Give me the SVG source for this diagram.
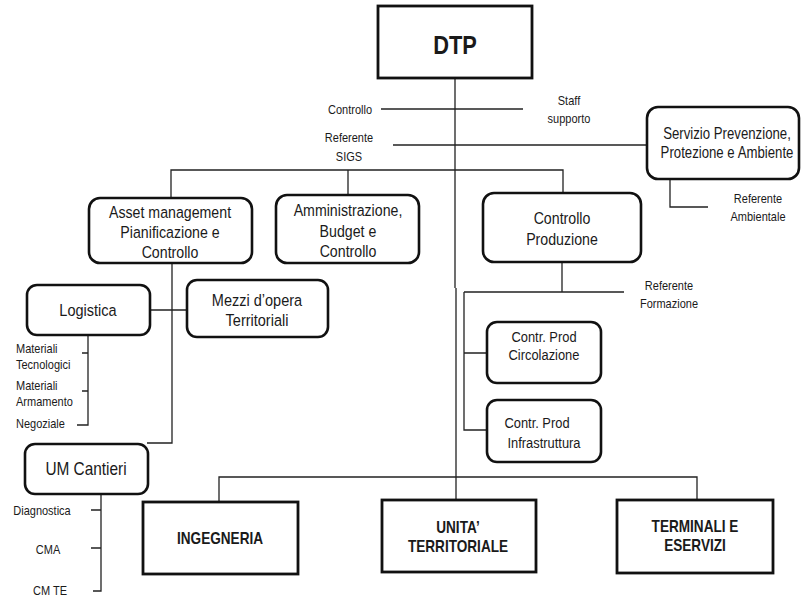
<svg xmlns="http://www.w3.org/2000/svg" width="802" height="596" viewBox="0 0 802 596">
<style>
text{font-family:"Liberation Sans",Arial,sans-serif;fill:#1a1a1a;text-anchor:middle;dominant-baseline:central}
.n{font-size:16.5px}
.c{font-size:15px}
.s{font-size:12.5px}
.st{font-size:12.5px;text-anchor:start}
.b{font-size:16px;font-weight:bold}
.rr{fill:#fff;stroke:#111;stroke-width:2.6}
.sq{fill:#fff;stroke:#111;stroke-width:2.8}
.l{fill:none;stroke:#222;stroke-width:1.3}
</style>
<rect width="802" height="596" fill="#fff"/>
<g id="connectors">
<path class="l" d="M455 78V288M456 288V500"/>
<path class="l" d="M381 109H523"/>
<path class="l" d="M393 145H647"/>
<path class="l" d="M171 198V170H563V193M348 170V195"/>
<path class="l" d="M670 179V207H708"/>
<path class="l" d="M172 263V443H147M150 310H187"/>
<path class="l" d="M88 335V425H77M88 353H82M88 391H82"/>
<path class="l" d="M101 494V591H93M101 510H91M101 548H91"/>
<path class="l" d="M562 262V292M464 292H624M464 292V430H487M464 353H487"/>
<path class="l" d="M219 501V477H697V500"/>
</g>
<g id="dtp"><rect class="sq" x="378" y="6" width="154" height="72"/><text transform="translate(455 45) scale(.84 1)" style="font-size:26px;font-weight:bold">DTP</text></g>
<g id="controllo"><text class="s" transform="translate(350 109) scale(.88 1)">Controllo</text></g>
<g id="staff"><text class="s" transform="translate(569 100) scale(.88 1)">Staff</text><text class="s" transform="translate(569 118) scale(.88 1)">supporto</text></g>
<g id="sigs"><text class="s" transform="translate(349 137) scale(.88 1)">Referente</text><text class="s" transform="translate(349 156) scale(.88 1)">SIGS</text></g>
<g id="servizio"><rect class="rr" x="647" y="107" width="152" height="72" rx="11"/><text class="n" transform="translate(727 133) scale(.8 1)">Servizio Prevenzione,</text><text class="n" transform="translate(727 152) scale(.8 1)">Protezione e Ambiente</text></g>
<g id="ref-amb"><text class="s" transform="translate(758 198) scale(.88 1)">Referente</text><text class="s" transform="translate(758 216) scale(.88 1)">Ambientale</text></g>
<g id="asset"><rect class="rr" x="89" y="198" width="163" height="65" rx="11"/><text class="n" transform="translate(170 212) scale(.86 1)">Asset management</text><text class="n" transform="translate(170 232) scale(.86 1)">Pianificazione e</text><text class="n" transform="translate(170 252) scale(.86 1)">Controllo</text></g>
<g id="amministrazione"><rect class="rr" x="276" y="195" width="143" height="68" rx="11"/><text class="n" transform="translate(348 210) scale(.86 1)">Amministrazione,</text><text class="n" transform="translate(348 231) scale(.86 1)">Budget e</text><text class="n" transform="translate(348 251) scale(.86 1)">Controllo</text></g>
<g id="controllo-produzione"><rect class="rr" x="483" y="193" width="158" height="69" rx="11"/><text class="n" transform="translate(562 218) scale(.86 1)">Controllo</text><text class="n" transform="translate(562 239) scale(.86 1)">Produzione</text></g>
<g id="ref-form"><text class="s" transform="translate(669 285) scale(.88 1)">Referente</text><text class="s" transform="translate(669 303) scale(.88 1)">Formazione</text></g>
<g id="circolazione"><rect class="rr" x="487" y="322" width="114" height="61" rx="10"/><text class="c" transform="translate(544 337) scale(.86 1)">Contr. Prod</text><text class="c" transform="translate(544 355) scale(.86 1)">Circolazione</text></g>
<g id="infrastruttura"><rect class="rr" x="487" y="400" width="114" height="62" rx="10"/><text class="c" transform="translate(537 423) scale(.86 1)">Contr.  Prod</text><text class="c" transform="translate(544 443) scale(.86 1)">Infrastruttura</text></g>
<g id="logistica"><rect class="rr" x="27" y="285" width="123" height="50" rx="10"/><text class="n" transform="translate(88 310) scale(.88 1)">Logistica</text></g>
<g id="mezzi"><rect class="rr" x="187" y="280" width="141" height="57" rx="10"/><text class="n" transform="translate(257 300) scale(.88 1)">Mezzi d’opera</text><text class="n" transform="translate(257 320) scale(.88 1)">Territoriali</text></g>
<g id="log-labels">
<text class="st" transform="translate(16 348) scale(.88 1)">Materiali</text>
<text class="st" transform="translate(16 364) scale(.88 1)">Tecnologici</text>
<text class="st" transform="translate(16 385) scale(.88 1)">Materiali</text>
<text class="st" transform="translate(16 401) scale(.88 1)">Armamento</text>
<text class="st" transform="translate(16 423) scale(.88 1)">Negoziale</text>
</g>
<g id="um-cantieri"><rect class="rr" x="25" y="444" width="123" height="50" rx="10"/><text transform="translate(86 469) scale(.88 1)" style="font-size:17.5px">UM Cantieri</text></g>
<g id="um-labels"><text class="s" transform="translate(42 510) scale(.88 1)">Diagnostica</text><text class="s" transform="translate(48 549) scale(.88 1)">CMA</text><text class="s" transform="translate(50 590) scale(.88 1)">CM TE</text></g>
<g id="ingegneria"><rect class="sq" x="143" y="502" width="155" height="72"/><text class="b" transform="translate(220 539) scale(.85 1)">INGEGNERIA</text></g>
<g id="unita"><rect class="sq" x="382" y="500" width="154" height="72"/><text class="b" transform="translate(458 528) scale(.85 1)">UNITA’</text><text class="b" transform="translate(458 547) scale(.85 1)">TERRITORIALE</text></g>
<g id="terminali"><rect class="sq" x="617" y="500" width="156" height="73"/><text class="b" transform="translate(695 527) scale(.85 1)">TERMINALI E</text><text class="b" transform="translate(695 546) scale(.85 1)">ESERVIZI</text></g>
</svg>
